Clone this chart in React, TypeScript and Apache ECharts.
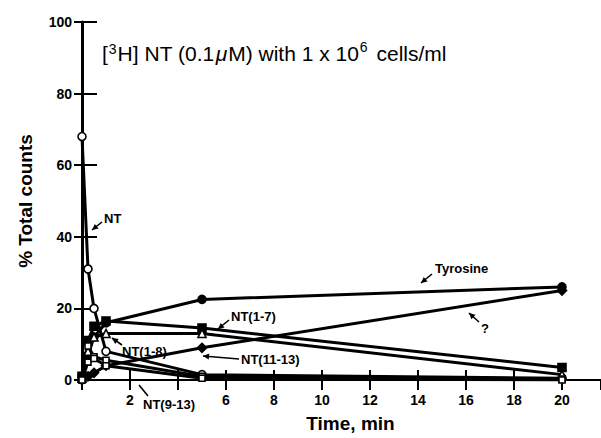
import React, { useEffect, useRef } from "react";
import * as echarts from "echarts";

const times = [0, 0.25, 0.5, 1, 5, 20];
const ntValues = [68, 31, 20, 8, 1.5, 0.5];
const tyrosineValues = [1, 7, 12, 16, 22.5, 26];
const nt17Values = [1, 11, 15, 16.5, 14.5, 3.5];
const nt18Values = [0.5, 8, 12, 13, 13, 1.5];
const unknownValues = [0, 1, 2, 4, 9, 25];
const nt1113Values = [0, 9.5, 6.5, 5.5, 1, 0.3];
const nt913Values = [0, 5, 6, 4, 0.5, 0];

const xTickLabels = ["2", "6", "8", "10", "12", "14", "16", "18", "20"];
const yTickLabels = ["0", "20", "40", "60", "80", "100"];

const FONT = "'Liberation Sans', Arial, Helvetica, sans-serif";

function measure(text: string, size: number, weight = "normal", style = "normal") {
  const c = document.createElement("canvas").getContext("2d");
  if (!c) return text.length * size * 0.55;
  c.font = `${style} ${weight} ${size}px ${FONT}`;
  return c.measureText(text).width;
}

function arrow(x1: number, y1: number, x2: number, y2: number, head = true) {
  const els: any[] = [
    {
      type: "line",
      shape: { x1, y1, x2, y2 },
      style: { stroke: "#000", lineWidth: 1.6 },
      z: 100,
    },
  ];
  if (head) {
    const ang = Math.atan2(y2 - y1, x2 - x1);
    const L = 6;
    const W = 3;
    const bx = x2 - L * Math.cos(ang);
    const by = y2 - L * Math.sin(ang);
    els.push({
      type: "polygon",
      shape: {
        points: [
          [x2, y2],
          [bx + W * Math.sin(ang), by - W * Math.cos(ang)],
          [bx - W * Math.sin(ang), by + W * Math.cos(ang)],
        ],
      },
      style: { fill: "#000" },
      z: 100,
    });
  }
  return els;
}

function label(text: string, x: number, y: number, size = 13) {
  return {
    type: "text",
    x,
    y,
    z: 100,
    style: {
      text,
      fill: "#000",
      font: `bold ${size}px ${FONT}`,
      textVerticalAlign: "middle",
      textAlign: "left",
    },
  };
}

function titleElements(x0: number, y0: number) {
  const size = 21;
  const sup = 14;
  const parts: { t: string; size: number; dy: number; style?: string; gap?: number }[] = [
    { t: "[", size, dy: 0, gap: 1 },
    { t: "3", size: sup, dy: -4, gap: 1 },
    { t: "H]", size, dy: 0, gap: 6 },
    { t: "NT (0.1", size, dy: 0, gap: 1 },
    { t: "\u03bc", size, dy: 0, style: "italic", gap: 1 },
    { t: "M) with 1 x 10", size, dy: 0, gap: 1 },
    { t: "6", size: sup, dy: -6, gap: 3 },
    { t: " cells/ml", size, dy: 0 },
  ];
  let x = x0;
  const els: any[] = [];
  for (const p of parts) {
    const st = p.style || "normal";
    els.push({
      type: "text",
      x,
      y: y0 + p.dy,
      z: 100,
      style: {
        text: p.t,
        fill: "#000",
        font: `${st} normal ${p.size}px ${FONT}`,
        textVerticalAlign: "middle",
        textAlign: "left",
      },
    });
    x += measure(p.t, p.size, "normal", st) + (p.gap || 0);
  }
  return els;
}

function mkSeries(name: string, values: number[], symbol: string, size: number, fill: string) {
  return {
    name,
    type: "line",
    data: times.map((t, i) => [t, values[i]]),
    symbol,
    symbolSize: size,
    showAllSymbol: true,
    lineStyle: { color: "#000", width: 3 },
    itemStyle: { color: fill, borderColor: "#000", borderWidth: 1.6 },
    z: 5,
  };
}

export default function App() {
  const ref = useRef<HTMLDivElement>(null);
  useEffect(() => {
    if (!ref.current) return;
    const chart = echarts.init(ref.current, undefined, { renderer: "svg" });
    const tickLabelStyle = {
      color: "#000",
      fontFamily: FONT,
      fontWeight: "bold" as const,
      fontSize: 14,
    };
    const graphics: any[] = [
      ...titleElements(102, 53),
      label("NT", 104, 218),
      ...arrow(102, 222, 92, 230),
      label("Tyrosine", 435, 268),
      ...arrow(432, 274, 421, 283),
      label("NT(1-7)", 231, 316),
      ...arrow(229, 320, 218, 329),
      label("?", 481, 328),
      ...arrow(479, 322, 469, 313),
      label("NT(11-13)", 241, 359),
      ...arrow(239, 359, 203, 356),
      label("NT(1-8)", 122, 351),
      ...arrow(122, 345, 112, 338),
      label("NT(9-13)", 143, 404),
      ...arrow(148, 396, 139, 385, false),
    ];
    chart.setOption({
      animation: false,
      backgroundColor: "#fff",
      grid: { left: 82, right: 0, top: 22, bottom: 53, containLabel: false },
      xAxis: [
        {
          type: "value",
          min: 0,
          max: 21.625,
          interval: 2,
          name: "Time, min",
          nameLocation: "middle",
          nameGap: 34,
          nameTextStyle: {
            color: "#000",
            fontFamily: FONT,
            fontWeight: "bold",
            fontSize: 19,
            padding: [0, 0, 0, 18],
          },
          axisLine: { show: true, onZero: false, lineStyle: { color: "#000", width: 2 } },
          axisTick: { show: true, inside: true, length: 10, lineStyle: { color: "#000", width: 2 } },
          axisLabel: {
            ...tickLabelStyle,
            margin: 13,
            showMaxLabel: false,
            formatter: (v: number) => (xTickLabels.includes(String(v)) ? String(v) : ""),
          },
          splitLine: { show: false },
        },
        {
          type: "value",
          position: "top",
          min: 0,
          max: 21.625,
          interval: 2,
          axisLine: { show: true, lineStyle: { color: "#000", width: 2 } },
          axisTick: { show: true, inside: true, length: 10, lineStyle: { color: "#000", width: 2 } },
          axisLabel: { show: false },
          splitLine: { show: false },
        },
      ],
      yAxis: [
        {
          type: "value",
          min: 0,
          max: 100,
          interval: 20,
          name: "% Total counts",
          nameLocation: "middle",
          nameGap: 47,
          nameRotate: 90,
          nameTextStyle: { color: "#000", fontFamily: FONT, fontWeight: "bold", fontSize: 19 },
          axisLine: { show: true, lineStyle: { color: "#000", width: 3 } },
          axisTick: { show: true, inside: true, length: 15, lineStyle: { color: "#000", width: 2 } },
          axisLabel: {
            ...tickLabelStyle,
            margin: 10,
            formatter: (v: number) => (yTickLabels.includes(String(v)) ? String(v) : ""),
          },
          splitLine: { show: false },
        },
        {
          type: "value",
          position: "right",
          min: 0,
          max: 100,
          interval: 20,
          axisLine: { show: true, lineStyle: { color: "#000", width: 2 } },
          axisTick: { show: true, inside: true, length: 8, lineStyle: { color: "#000", width: 2 } },
          axisLabel: { show: false },
          splitLine: { show: false },
        },
      ],
      series: [
        mkSeries("NT", ntValues, "circle", 8, "#fff"),
        mkSeries("Tyrosine", tyrosineValues, "circle", 8, "#000"),
        mkSeries("NT(1-7)", nt17Values, "rect", 8, "#000"),
        mkSeries("NT(1-8)", nt18Values, "triangle", 8, "#fff"),
        mkSeries("?", unknownValues, "diamond", 9, "#000"),
        mkSeries("NT(11-13)", nt1113Values, "rect", 6, "#fff"),
        mkSeries("NT(9-13)", nt913Values, "rect", 6, "#fff"),
      ],
      graphic: graphics,
    });
    return () => chart.dispose();
  }, []);
  return (
    <div
      ref={ref}
      style={{ position: "fixed", left: 0, top: 0, width: 601, height: 438, background: "#fff" }}
    />
  );
}
